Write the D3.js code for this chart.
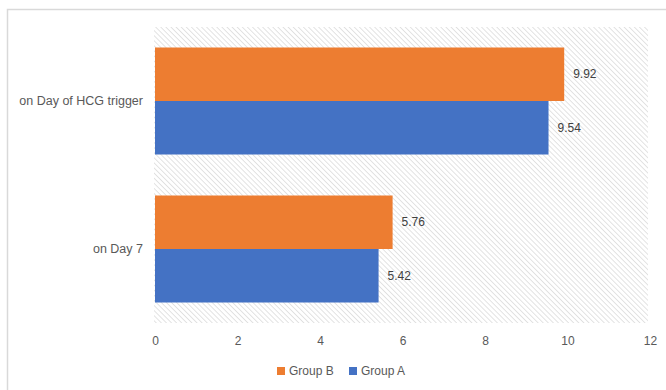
<!DOCTYPE html>
<html>
<head>
<meta charset="utf-8">
<script src="https://cdn.jsdelivr.net/npm/d3@7"></script>
<style>
  body { margin: 0; background: #fff; }
  text { font-family: "Liberation Sans", Arial, sans-serif; }
</style>
</head>
<body>
<div id="chart"></div>
<script>
// Data
var categories = ["on Day of HCG trigger", "on Day 7"];
var seriesNames = ["Group B", "Group A"];
var groupB = [9.92, 5.76];
var groupA = [9.54, 5.42];
var xTicks = [0, 2, 4, 6, 8, 10, 12];
var colors = {"Group B": "#ed7d31", "Group A": "#4472c4"};

var W = 666, H = 390;
var margin = {top: 27, right: 16, bottom: 67, left: 155},
    width = W - margin.left - margin.right,
    height = H - margin.top - margin.bottom;

var svg = d3.select("#chart")
  .append("svg")
    .attr("width", W)
    .attr("height", H);

// hatch pattern for the plot area
var defs = svg.append("defs");
defs.append("pattern")
    .attr("id", "hatch")
    .attr("patternUnits", "userSpaceOnUse")
    .attr("width", 3.6)
    .attr("height", 3.6)
    .attr("patternTransform", "rotate(-45)")
  .append("line")
    .attr("x1", 0).attr("y1", 0)
    .attr("x2", 0).attr("y2", 3.6)
    .attr("stroke", "#d4d4d4")
    .attr("stroke-width", 1.3);

// chart border (left and top visible)
svg.append("rect")
    .attr("x", 7.5)
    .attr("y", 9.5)
    .attr("width", 700)
    .attr("height", 400)
    .attr("fill", "none")
    .attr("stroke", "#d9d9d9")
    .attr("stroke-width", 1.5);

var g = svg.append("g")
    .attr("transform", "translate(" + margin.left + "," + margin.top + ")");

// Scales
var x = d3.scaleLinear().domain([0, 12]).range([0, 495]);
var y0 = d3.scaleBand().domain(categories).range([0, height])
    .paddingInner(0.277).paddingOuter(0.1385);
var y1 = d3.scaleBand().domain(seriesNames).range([0, y0.bandwidth()]);

g.append("rect")
    .attr("x", -1)
    .attr("width", x(12) - 1)
    .attr("height", height)
    .attr("fill", "url(#hatch)");

var rows = categories.map(function(c, i) {
  return {cat: c, vals: [
    {name: "Group B", v: groupB[i]},
    {name: "Group A", v: groupA[i]}
  ]};
});

var grp = g.selectAll(".cat")
  .data(rows)
  .enter().append("g")
    .attr("transform", function(d) { return "translate(0," + y0(d.cat) + ")"; });

grp.selectAll("rect")
  .data(function(d) { return d.vals; })
  .enter().append("rect")
    .attr("x", x(0))
    .attr("y", function(d) { return y1(d.name); })
    .attr("width", function(d) { return x(d.v) - x(0); })
    .attr("height", y1.bandwidth())
    .attr("fill", function(d) { return colors[d.name]; });

// value labels
grp.selectAll(".val")
  .data(function(d) { return d.vals; })
  .enter().append("text")
    .attr("x", function(d) { return x(d.v) + 9; })
    .attr("y", function(d) { return y1(d.name) + y1.bandwidth() / 2; })
    .attr("dy", "0.35em")
    .style("font-size", "12px")
    .style("fill", "#404040")
    .text(function(d) { return d.v.toFixed(2); });

// X axis labels
var xAxis = g.append("g")
    .attr("transform", "translate(0," + height + ")")
    .call(d3.axisBottom(x).tickValues(xTicks).tickSize(0).tickPadding(13));
xAxis.select(".domain").remove();
xAxis.selectAll("text")
    .style("font-size", "12px")
    .style("font-family", "Liberation Sans, Arial, sans-serif")
    .style("fill", "#595959");

// Y axis labels
var yAxis = g.append("g")
    .call(d3.axisLeft(y0).tickSize(0).tickPadding(12));
yAxis.select(".domain").remove();
yAxis.selectAll("text")
    .style("font-size", "12.5px")
    .style("font-family", "Liberation Sans, Arial, sans-serif")
    .style("fill", "#595959");

// Legend
var legend = svg.append("g")
    .attr("transform", "translate(277,371)");
var item = legend.selectAll(".item")
  .data(seriesNames)
  .enter().append("g")
    .attr("transform", function(d, i) { return "translate(" + (i * 72) + ",0)"; });
item.append("rect")
    .attr("x", 0).attr("y", -4)
    .attr("width", 8).attr("height", 8)
    .attr("fill", function(d) { return colors[d]; });
item.append("text")
    .attr("x", 12)
    .attr("dy", "0.35em")
    .style("font-size", "12px")
    .style("fill", "#595959")
    .text(function(d) { return d; });
</script>
</body>
</html>
